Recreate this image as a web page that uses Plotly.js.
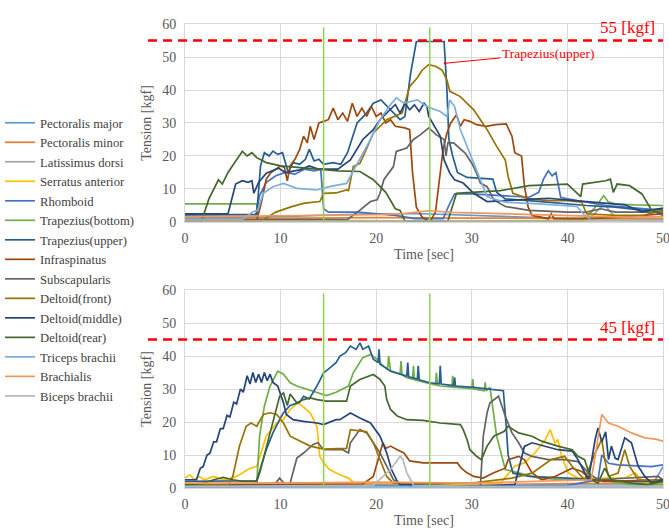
<!DOCTYPE html>
<html>
<head>
<meta charset="utf-8">
<script src="https://cdn.plot.ly/plotly-3.0.1.min.js"></script>
<style>html,body{margin:0;padding:0;background:#fff;}#chart{width:669px;height:529px;}</style>
</head>
<body>
<div id="chart"></div>
<script>
// ---------- series names & colours ----------
const seriesNames = ["Pectoralis major","Pectoralis minor","Latissimus dorsi","Serratus anterior","Rhomboid",
  "Trapezius(bottom)","Trapezius(upper)","Infraspinatus","Subscapularis","Deltoid(front)",
  "Deltoid(middle)","Deltoid(rear)","Triceps brachii","Brachialis","Biceps brachii"];
const seriesColors = ["#5B9BD5","#ED7D31","#A5A5A5","#FFC000","#4472C4","#70AD47","#255E91","#9E480E",
  "#636363","#997300","#264478","#43682B","#7CAFDD","#F1975A","#B7B7B7"];
const xTicks = [0,10,20,30,40,50];
const yTicks = [0,10,20,30,40,50,60];

// ---------- TOP panel (time [sec], tension [kgf]) ----------
const topPecMajorT = [0, 8, 14, 20, 25, 30, 35, 40, 45, 50];
const topPecMajorV = [1.5, 1.5, 2, 2.5, 2.5, 2, 1.5, 1, 1, 1];
const topPecMinorT = [0, 10, 20, 30, 40, 50];
const topPecMinorV = [1, 1.2, 1.3, 1.2, 1, 1];
const topLatT = [0, 20, 42, 43, 43.5, 44, 44.5, 45.5, 50];
const topLatV = [0.3, 0.4, 0.3, 3, 4.5, 5, 3, 0.5, 0.5];
const topSerT = [0, 20, 42, 43, 50];
const topSerV = [0.2, 0.3, 0.3, 0.8, 0.3];
const topRhoT = [0, 7.4, 7.8, 8.5, 9.5, 10.5, 11.5, 12.5, 13.5, 14.2, 14.5, 15, 18, 22, 24, 27, 27.6, 28.2, 30, 33, 36, 37, 37.5, 38, 38.4, 38.8, 39.3, 40, 42, 44, 46, 48, 50];
const topRhoV = [2, 2, 8, 12, 14, 15, 14.5, 16, 15.5, 16, 4, 3, 3, 2, 1, 1, 5, 8.5, 8.5, 8, 7.5, 9, 13, 15.5, 14, 15, 7.5, 7, 6, 5, 4.5, 4, 3.5];
const topTrapBotT = [0, 7.5, 7.6, 14, 20, 30, 41.5, 42.5, 43.3, 43.8, 44.3, 45, 47, 50];
const topTrapBotV = [5.5, 5.5, 0.5, 0.4, 0.3, 0.3, 0.5, 3, 6, 8, 6, 5.5, 5.2, 5];
const topTrapUpT = [0, 7.5, 7.9, 8.3, 8.8, 9.2, 9.7, 10.2, 10.8, 11.3, 12, 12.6, 13, 13.5, 14, 14.5, 15.5, 16.3, 17, 18, 19, 19.7, 20.5, 21.5, 22.5, 23, 23.6, 24.2, 27.1, 27.4, 27.6, 28, 28.5, 29.5, 32.2, 32.6, 33.5, 36, 38, 40, 42, 45, 48, 50];
const topTrapUpV = [2.2, 2.3, 17, 21, 20, 21.5, 20.5, 21, 15, 18, 17.5, 19, 22, 18.5, 19, 17.5, 18, 17.5, 21, 30, 33, 36, 37, 34, 31, 32, 45, 54.7, 54.7, 40, 25, 20, 15, 13.5, 13, 9, 7, 6.5, 6, 5.5, 5, 4.5, 3.5, 4];
const topInfT = [0, 7.5, 8, 8.5, 9, 9.5, 10, 10.4, 10.7, 11, 11.5, 12, 12.4, 12.8, 13.1, 13.5, 14, 14.5, 15, 15.5, 16, 16.5, 17, 17.5, 18, 18.5, 19, 19.5, 20, 20.5, 21, 21.5, 22, 23, 23.5, 23.8, 24.2, 24.8, 25.6, 26.2, 26.6, 27, 27.4, 27.8, 28.4, 28.8, 29.2, 29.8, 30.5, 31.5, 32.5, 33.6, 34.2, 34.5, 35.2, 35.5, 35.9, 36.3, 38, 38.3, 38.6, 42, 46, 50];
const topInfV = [0.5, 0.5, 6, 13, 15, 16, 17, 16.5, 12.5, 17, 19, 22, 26, 24, 29, 25, 30, 30.5, 31, 34.5, 31, 33, 30.5, 36, 32, 34.5, 32, 35, 32, 33, 30, 31, 29, 28.5, 28, 15, 4.5, 1.5, 0, 3, 12, 22, 27, 30, 32.5, 29, 31, 30.5, 29.5, 29, 29.5, 29.7, 26, 21, 20, 11, 4.5, 2, 1, 2.5, 1, 1, 1.5, 2.5];
const topSubT = [0, 17, 18.3, 19.4, 20.1, 20.4, 20.8, 21.8, 22.1, 23.2, 23.9, 24.6, 25.5, 26.3, 27.1, 27.3, 27.5, 28.1, 29.3, 30, 30.5, 30.9, 31.6, 32.3, 33.5, 36, 40, 42, 43.5, 45, 50];
const topSubV = [0.5, 0.8, 3.6, 6.2, 6.7, 8.7, 12.8, 16.8, 21.4, 22.4, 25, 26.4, 28.5, 26.4, 25, 20, 24, 24, 20.9, 17.8, 14.8, 11.8, 10.7, 6.7, 4.7, 3.5, 3, 3, 4, 3, 3];
const topDelFT = [0, 8, 9.5, 11, 12.5, 14.1, 14.5, 15.8, 16.9, 17.1, 17.6, 18.3, 18.8, 19.7, 21.1, 22.7, 23.5, 24.3, 24.8, 25.5, 26.2, 26.9, 27.4, 27.7, 28.8, 29.7, 30.2, 30.9, 31.6, 32.6, 33.5, 33.8, 34.3, 36, 38, 40, 41.5, 42, 45, 48, 50];
const topDelFV = [0.3, 0.3, 3, 4.5, 5.7, 6.2, 8.7, 8.8, 9.7, 9.5, 16.8, 17.8, 20.9, 27, 31, 33, 41, 43.7, 46, 47.7, 47.2, 46, 43, 39.6, 38, 35.5, 34, 31, 28, 22.9, 18.8, 13.8, 8.7, 7, 6.5, 6.5, 6, 2.5, 2, 2, 3.6];
const topDelMT = [0, 4.5, 5.3, 6, 6.6, 7, 7.2, 7.7, 8.5, 9.8, 10.5, 12, 13, 14, 16, 17.3, 18.6, 19.7, 20.4, 21.5, 22, 22.5, 23, 23.5, 24, 24.5, 25, 25.3, 25.5, 26.3, 26.7, 27.1, 27.7, 28.2, 29.1, 30.2, 31.6, 33.5, 38, 42, 46, 47.8, 50];
const topDelMV = [2.5, 2.5, 11.5, 12.5, 12, 12.5, 8.7, 12, 14.8, 16.3, 15, 15.8, 17, 16, 16, 18.8, 25, 28, 31, 34, 35.6, 33, 36, 34, 35.5, 33.5, 36, 35, 32, 28, 26, 18.8, 14.8, 12.8, 11.8, 8.7, 6.2, 6.5, 7.2, 6.2, 5.2, 3.1, 4.2];
const topDelRT = [0, 1.7, 2.5, 3.5, 3.9, 4.5, 5.2, 6, 6.5, 7, 7.5, 8.5, 10, 12, 14, 16, 18.3, 19.7, 21, 21.5, 22, 22.5, 23, 27.5, 28.4, 30, 33, 34, 36, 40, 41.4, 41.6, 43, 44, 44.5, 44.8, 45.2, 46.5, 47.8, 48.8, 50];
const topDelRV = [0, 0, 7, 12.8, 11.5, 15, 18, 21.4, 20, 21, 19.5, 18, 17, 16.5, 16, 15.5, 15.3, 12.8, 9, 6.7, 4, 3.5, 0.3, 0.3, 8.7, 9, 9.5, 10, 11, 11.5, 7.7, 11.5, 12, 12.5, 13, 9, 11.5, 11, 8.5, 3.6, 2];
const topTriT = [0, 6, 7.1, 7.6, 8.2, 9.2, 10.3, 11.7, 13.8, 15.1, 16.9, 17.3, 18.3, 19.4, 20.4, 21.5, 22.1, 22.9, 24.3, 25.3, 26.7, 27.4, 27.7, 28.2, 28.8, 29.5, 30.2, 30.9, 31.6, 32.6, 33.5, 37, 41, 41.8, 42.5, 50];
const topTriV = [0.8, 0.8, 3.1, 3.5, 8.7, 10.7, 11.7, 10.2, 9.7, 10.7, 11.7, 13.8, 18.8, 25, 31, 35.6, 37.6, 36, 37, 35, 33.5, 32, 37, 35, 28, 22.9, 17.8, 12.8, 7.7, 6.7, 6, 5.5, 4.7, 2, 0.6, 0.5];
const topBraT = [0, 10, 20, 23, 25.5, 28, 32, 38, 42, 46, 50];
const topBraV = [1.6, 1.8, 2.2, 2.6, 3.4, 2.9, 2.6, 2.1, 1.7, 1.5, 1.6];
const topBicT = [0, 15, 30, 50];
const topBicV = [0.3, 0.4, 0.3, 0.3];

// ---------- BOTTOM panel ----------
const botPecMajorT = [0, 20, 30, 40, 45, 48.8, 50];
const botPecMajorV = [0.3, 0.3, 0.5, 0.5, 0.5, 0.5, 6.5];
const botPecMinorT = [0, 10, 20, 30, 40, 50];
const botPecMinorV = [1.2, 1.5, 1.2, 1, 1.3, 1.5];
const botLatT = [0, 8, 20, 30, 40, 50];
const botLatV = [0.8, 0.8, 1, 0.8, 1, 1];
const botSerT = [0, 0.5, 1, 1.5, 2, 3, 4, 5, 5.7, 6.3, 6.8, 7.5, 8.5, 9.6, 10.3, 11, 11.8, 12.4, 13.1, 13.8, 14.1, 14.5, 15.1, 16.2, 17.1, 17.9, 25, 33, 34.5, 35.5, 36.6, 37.7, 38.2, 38.7, 39, 39.4, 40.1, 41.1, 46, 47.1, 48, 50];
const botSerV = [3, 4, 2.5, 3.5, 2.5, 3.5, 2.5, 3, 4, 5, 6, 6.5, 15.7, 19.7, 20.7, 23.8, 25.8, 24.5, 22.8, 18.7, 9.6, 7.6, 5.6, 4, 3, 1, 1, 1.5, 6.6, 7.6, 10.6, 14.7, 17.7, 13.5, 14.7, 9.6, 4.6, 3, 3, 4.6, 1.5, 1];
const botRhoT = [0, 20, 30, 40, 43.2, 43.6, 44.3, 45.3, 48.8, 50];
const botRhoV = [0.5, 0.8, 0.6, 0.8, 2.5, 10, 7.5, 7, 6.5, 7];
const botTrapBotT = [0, 7.5, 7.8, 8.3, 8.9, 9.7, 10.3, 11, 11.7, 12.7, 13.8, 14.8, 15.8, 17.1, 17.6, 18.6, 19.4, 20.1, 20.7, 21.2, 21.3, 21.5, 22.5, 22.6, 22.7, 23.2, 23.8, 23.9, 24, 25.3, 26.2, 26.3, 26.4, 26.7, 27.9, 28, 28.1, 28.4, 30, 30.1, 30.2, 31.3, 31.4, 31.5, 31.9, 32.6, 33.3, 33.5, 34.9, 37, 39.7, 43.2, 46.7, 50];
const botTrapBotV = [1, 1.2, 15.7, 24.8, 30.9, 35.4, 34.5, 31.9, 30.9, 29.9, 28.8, 28, 29, 30.9, 34.9, 39.5, 40.5, 39, 37, 36, 40, 35.5, 34.5, 38.5, 34.3, 33.4, 33, 37, 32.8, 31.9, 31.2, 35, 31.1, 30.9, 30.6, 34, 30.5, 30.5, 30.1, 33, 30, 29.5, 32, 29.4, 30.5, 15.7, 7.6, 5.6, 4.6, 3, 2.5, 2.5, 1, 1];
const botTrapUpT = [0, 7.5, 8.5, 9.2, 9.9, 10.3, 11, 12, 12.4, 13, 13.8, 14.5, 15, 15.8, 16.2, 16.8, 17.3, 17.9, 18.3, 18.6, 19.2, 19.7, 20.2, 20.3, 20.4, 20.7, 21.5, 22.4, 23.2, 23.3, 23.4, 24.3, 24.4, 24.5, 25.6, 26.6, 26.7, 26.8, 28.1, 28.2, 28.3, 30.2, 32.3, 33.3, 33.6, 33.8, 34.3, 36, 40, 43, 46, 50];
const botTrapUpV = [2, 2.2, 11.6, 16.7, 20.7, 22.8, 25, 26, 27.8, 27, 30.9, 34.9, 36, 38, 40, 41, 43, 42, 44, 42, 43, 39, 38, 42, 37.5, 37, 35.4, 34.5, 33.9, 38, 33.7, 33, 37, 32.8, 31.9, 31.6, 37, 31.5, 31, 33.5, 30.9, 30.5, 29.9, 29.5, 18.7, 10, 4.5, 3.5, 3, 2.5, 2, 2];
const botInfT = [0, 18.5, 19.7, 20.1, 20.4, 20.7, 21, 21.5, 22.2, 22.9, 23.5, 24.9, 26.7, 28.5, 28.9, 29.5, 30.2, 31.2, 32.3, 33.5, 33.8, 34.9, 35.5, 36.3, 37.3, 38.7, 40.5, 41.5, 42.5, 43.9, 50];
const botInfV = [1, 1, 3.5, 7.6, 10.6, 13.7, 12, 12.7, 11.6, 10.6, 8.2, 7.6, 7.6, 7.6, 6, 4.6, 3.5, 3, 4.6, 6, 8.6, 9.6, 8.6, 4.6, 2.5, 3.5, 6, 5, 2.5, 2, 2.5];
const botSubT = [0, 9.3, 9.9, 10.5, 11, 11.7, 12.4, 13.4, 13.9, 14.5, 15.8, 16.5, 17.1, 17.3, 18.3, 19, 19.7, 20.4, 21.1, 21.8, 22.5, 30.9, 31.2, 31.6, 31.9, 32.3, 32.8, 33.5, 34.2, 34.9, 35.5, 36.3, 38, 39.7, 41.1, 42.2, 43.2, 49.5, 50];
const botSubV = [0.5, 0.8, 3, 1, 1.5, 9.1, 10.6, 13.2, 13.7, 11.6, 11.6, 11.6, 10.6, 13.7, 17.7, 16.7, 13.7, 10.6, 6.6, 2.5, 1, 0.5, 15.7, 22.8, 25.8, 26.8, 27.8, 21.8, 16.7, 13.7, 10.6, 9.6, 8.6, 8.6, 8, 4.6, 2.5, 3.5, 2.5];
const botDelFT = [0, 4.5, 5, 5.7, 6.4, 6.9, 7.5, 8.2, 8.9, 9.6, 10.3, 11, 11.7, 12.4, 13.1, 14.5, 15.8, 16.9, 17.3, 19, 19.7, 20.4, 21.1, 21.8, 30, 34.2, 36.3, 38.3, 39.7, 40.5, 41.1, 41.8, 42.9, 43.6, 43.9, 44.3, 45.3, 46, 46.5, 47.4, 50];
const botDelFV = [1, 1, 3.5, 12.7, 18.7, 19.7, 18.7, 22.3, 22.8, 22.3, 19.7, 15.7, 14.7, 13.7, 12.7, 11.8, 11.8, 12, 17.7, 17, 13.7, 8.6, 3.5, 1.5, 1.5, 3, 4.5, 8.6, 9.6, 6.6, 4.6, 2.5, 10.6, 14.7, 8.6, 3.5, 4.5, 11.6, 6.6, 2.5, 2];
const botDelMT = [0, 1.2, 1.6, 1.9, 2.3, 2.6, 3.0, 3.3, 3.7, 4.0, 4.4, 4.7, 5.1, 5.4, 5.8, 6.1, 6.5, 6.8, 7.1, 7.4, 7.7, 8.0, 8.3, 8.6, 8.9, 9.2, 9.7, 10.3, 10.6, 11.3, 12.4, 13.8, 14.5, 15.8, 16.2, 17.3, 18.3, 19.4, 20.4, 21.1, 21.6, 22.2, 22.5, 30, 34.5, 35.5, 36.3, 37.7, 39, 40.5, 41.1, 42.2, 42.9, 43.2, 43.6, 44, 44.3, 44.6, 45, 45.3, 46, 46.7, 47.4, 48.1, 48.8, 50];
const botDelMV = [2.5, 2.5, 6, 6.5, 10, 10.5, 14, 14, 18, 18, 22, 21.5, 26, 25.5, 30, 29, 34, 31.5, 35, 32, 34.5, 32, 35, 32.5, 34.5, 32, 30.9, 25.8, 22.3, 20.7, 20.2, 19.7, 19.2, 20.7, 20.7, 22.7, 21.2, 19.7, 15.7, 10.6, 5.6, 2, 1, 0.5, 1, 12.6, 13.7, 12.7, 11.6, 11.2, 8.6, 2.5, 14.7, 18.2, 14, 17, 8.6, 12.7, 9, 8.6, 15.2, 13.7, 6.6, 3.5, 1.5, 2.5];
const botDelRT = [0, 2, 3, 4, 5, 6, 7.5, 7.8, 8.9, 9.6, 9.9, 10.3, 10.7, 11, 11.7, 12.4, 13.1, 13.8, 14.8, 15.8, 16.9, 17.3, 18.3, 19.7, 20.4, 20.9, 21.1, 21.5, 22.2, 23.2, 24.9, 26.7, 28.8, 29.1, 29.5, 29.8, 30.5, 31, 31.6, 32.3, 33.4, 33.8, 34.9, 36.3, 37.3, 39, 40.5, 41.1, 41.8, 42.5, 43.2, 43.9, 44.6, 46.7, 48.4, 50];
const botDelRV = [1, 1.5, 2.5, 3.2, 2.5, 2, 2, 4.5, 16.7, 24.8, 27.8, 28.8, 25, 28.5, 25.8, 26.8, 27.3, 26.8, 26.3, 26.3, 26.3, 30.9, 32.9, 34.4, 32.9, 30.9, 26.8, 23.8, 21.8, 20.7, 20.5, 19.7, 19.2, 17.7, 14.7, 11.6, 9.6, 8.6, 12.7, 15.7, 17.2, 18.7, 16.7, 15.7, 14.2, 12.7, 11.6, 9.6, 8.6, 2.5, 1.5, 6, 2.5, 1.5, 1, 2];
const botTriT = [0, 20, 40, 50];
const botTriV = [0.3, 0.5, 0.3, 0.3];
const botBraT = [0, 10, 20, 30, 42.5, 43.2, 43.6, 44.3, 45.3, 46.7, 48.1, 49.2, 50];
const botBraV = [1.5, 1.5, 1.8, 1.5, 2.5, 15.7, 22.3, 19.7, 18.7, 16.7, 15.2, 14.8, 14.2];
const botBicT = [0, 19.7, 21.5, 22.5, 22.8, 23.2, 23.6, 23.9, 30, 40, 50];
const botBicV = [0.5, 0.8, 5.6, 9.6, 8.6, 4.6, 2.5, 0.8, 0.5, 0.5, 0.5];

const topData = [[topPecMajorT,topPecMajorV],[topPecMinorT,topPecMinorV],[topLatT,topLatV],[topSerT,topSerV],[topRhoT,topRhoV],
  [topTrapBotT,topTrapBotV],[topTrapUpT,topTrapUpV],[topInfT,topInfV],[topSubT,topSubV],[topDelFT,topDelFV],
  [topDelMT,topDelMV],[topDelRT,topDelRV],[topTriT,topTriV],[topBraT,topBraV],[topBicT,topBicV]];
const botData = [[botPecMajorT,botPecMajorV],[botPecMinorT,botPecMinorV],[botLatT,botLatV],[botSerT,botSerV],[botRhoT,botRhoV],
  [botTrapBotT,botTrapBotV],[botTrapUpT,botTrapUpV],[botInfT,botInfV],[botSubT,botSubV],[botDelFT,botDelFV],
  [botDelMT,botDelMV],[botDelRT,botDelRV],[botTriT,botTriV],[botBraT,botBraV],[botBicT,botBicV]];

// reference values
const angleMarks = [14.5, 25.6];
const angleLabels = ["90 [deg]", "180 [deg]"];
const limitTop = 55, limitBot = 45;

const FONT = "Liberation Serif";
const traces = [];
topData.forEach((d, i) => traces.push({x: d[0], y: d[1], type: 'scatter', mode: 'lines', name: seriesNames[i],
  legendgroup: 'g' + i, line: {color: seriesColors[i], width: 1.7}, xaxis: 'x', yaxis: 'y'}));
botData.forEach((d, i) => traces.push({x: d[0], y: d[1], type: 'scatter', mode: 'lines', name: seriesNames[i],
  legendgroup: 'g' + i, showlegend: false, line: {color: seriesColors[i], width: 1.7}, xaxis: 'x2', yaxis: 'y2'}));

const tickFont = {family: FONT, size: 14, color: '#595959'};
const titleFont = {family: FONT, size: 14, color: '#595959'};
function xa(anchor) {
  return {range: [0, 50], tickvals: xTicks, showgrid: true, gridcolor: '#d9d9d9', zeroline: false,
    showline: true, mirror: true, linecolor: '#d9d9d9', ticks: '', tickfont: tickFont, anchor: anchor,
    ticklabelstandoff: 3, ticklabeloverflow: 'allow',
    title: {text: 'Time [sec]', font: titleFont, standoff: 4}};
}
function ya(anchor, dom) {
  return {range: [0, 60], tickvals: yTicks, domain: dom, showgrid: true, gridcolor: '#d9d9d9', zeroline: false,
    showline: true, mirror: true, linecolor: '#d9d9d9', ticks: '', tickfont: tickFont, anchor: anchor,
    ticklabelstandoff: 5, title: {text: 'Tension [kgf]', font: titleFont, standoff: 8}};
}

const shapes = [];
const annotations = [];
[['x','y',limitTop,62.3],['x2','y2',limitBot,63.6]].forEach(([xr, yr, lim, ylab]) => {
  shapes.push({type: 'line', xref: 'paper', yref: yr, x0: -0.0774, x1: 1, y0: lim, y1: lim,
    line: {color: '#FF0000', width: 2.6, dash: '9px,6px'}});
  angleMarks.forEach((a, k) => {
    shapes.push({type: 'line', xref: xr, yref: yr, x0: a, x1: a, y0: 0, y1: 59, line: {color: '#92D050', width: 1.5}});
    annotations.push({xref: xr, yref: yr, x: a + 0.7, y: ylab, text: angleLabels[k], showarrow: false,
      font: {family: FONT, size: 15, color: '#92D050'}});
  });
  annotations.push({xref: xr, yref: yr, x: 46.25, y: lim === limitTop ? 58.8 : 48.6, text: lim + ' [kgf]', showarrow: false,
    font: {family: FONT, size: 17, color: '#FF0000'}});
});
annotations.push({xref: 'x', yref: 'y', x: 27.2, y: 48.1, text: 'Trapezius(upper)', showarrow: true,
  ax: 103, ay: -10, arrowhead: 6, arrowsize: 0.6, arrowwidth: 1, arrowcolor: '#FF0000',
  font: {family: FONT, size: 13.5, color: '#FF0000'}});

const layout = {
  width: 669, height: 529,
  margin: {l: 185, r: 6, t: 24, b: 41},
  paper_bgcolor: '#ffffff', plot_bgcolor: '#ffffff',
  font: {family: FONT},
  showlegend: true,
  legend: {xref: 'container', yref: 'container', x: 0.0, y: 1 - 108/529, xanchor: 'left', yanchor: 'top',
    maxheight: 600,
    font: {family: FONT, size: 12.7, color: '#404040'}, bgcolor: 'rgba(0,0,0,0)', traceorder: 'normal'},
  xaxis: xa('y'), yaxis: ya('x', [0.5733, 1]),
  xaxis2: xa('y2'), yaxis2: ya('x2', [0, 0.4267]),
  shapes: shapes, annotations: annotations
};
Plotly.newPlot('chart', traces, layout, {displayModeBar: false, staticPlot: true});
</script>
</body>
</html>
